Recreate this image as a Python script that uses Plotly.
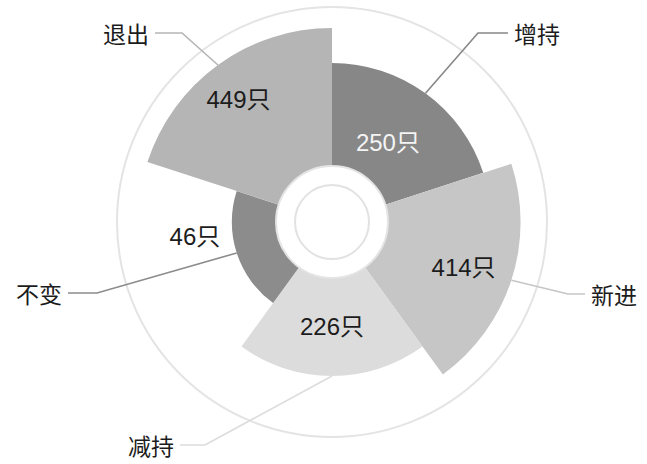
import numpy as np
import plotly.graph_objects as go

# ---------------- data ----------------
categories = ["增持", "新进", "减持", "不变", "退出"]
counts = [250, 414, 226, 46, 449]
unit = "只"

# ---------------- style ----------------
sector_colors = ["#878787", "#c6c6c6", "#dcdcdc", "#8c8c8c", "#b5b5b5"]
value_text_colors = ["#f4f4f4", "#1c1c1c", "#1c1c1c", "#1c1c1c", "#1c1c1c"]
value_label_r = [6.0, 12.9, 7.8, 12.6, 14.7]      # radial units
value_label_dtheta = [0, 2, 0, 11, -2]             # degrees
# leader line elbow / end points (pixels)
elbows = [(478, 33), (568, 294), (205, 445), (97, 293), (182, 33)]
ends = [(508, 33), (585, 294), (180, 445), (68, 293), (155, 33)]
label_side = ["left", "left", "right", "right", "right"]

W, H = 647, 464
CX, CY = 332, 222
R_OUT = 215
HOLE_PX = 56
R_MAX = 24.4
INNER_RING = 37

n = len(categories)
step = 360.0 / n
theta = [i * step + step / 2 for i in range(n)]
r_vals = np.sqrt(np.array(counts, dtype=float))


def px(x):
    return x / W


def py(y):
    return 1 - y / H


def polar_to_px(t_deg, r_units):
    rp = HOLE_PX + (R_OUT - HOLE_PX) * r_units / R_MAX
    t = np.radians(t_deg)
    return CX + rp * np.sin(t), CY - rp * np.cos(t)


fig = go.Figure()
fig.add_trace(go.Barpolar(
    r=r_vals, theta=theta, width=[step] * n,
    marker=dict(color=sector_colors, line=dict(width=0)),
    text=categories, hoverinfo="text", showlegend=False,
))
fig.add_trace(go.Scatterpolar(
    r=value_label_r,
    theta=[t + d for t, d in zip(theta, value_label_dtheta)],
    mode="text",
    text=[f"{v}{unit}" for v in counts],
    textfont=dict(family="Liberation Sans, Noto Sans CJK SC", size=24,
                  color=value_text_colors),
    cliponaxis=False, showlegend=False, hoverinfo="skip",
))

shapes = [dict(type="circle", xref="paper", yref="paper",
               x0=px(CX - INNER_RING), x1=px(CX + INNER_RING),
               y0=py(CY + INNER_RING), y1=py(CY - INNER_RING),
               line=dict(color="#e2e2e2", width=2))]
annotations = []
for i in range(n):
    sx, sy = polar_to_px(theta[i], r_vals[i])
    ex, ey = elbows[i]
    fx, fy = ends[i]
    shapes.append(dict(type="path", xref="paper", yref="paper",
                       path=f"M {px(sx)} {py(sy)} L {px(ex)} {py(ey)} L {px(fx)} {py(fy)}",
                       line=dict(color=sector_colors[i], width=1.6)))
    left = label_side[i] == "left"
    annotations.append(dict(x=px(fx + 4 if left else fx - 4), y=py(fy),
                            xref="paper", yref="paper",
                            text=categories[i], showarrow=False,
                            xanchor="left" if left else "right", yanchor="middle",
                            font=dict(family="Noto Sans CJK SC", size=23, color="#1c1c1c")))

fig.update_layout(
    width=W, height=H, autosize=False,
    margin=dict(l=0, r=0, t=0, b=0),
    paper_bgcolor="white", plot_bgcolor="white",
    showlegend=False,
    polar=dict(
        domain=dict(x=[px(CX - R_OUT), px(CX + R_OUT)],
                    y=[py(CY + R_OUT), py(CY - R_OUT)]),
        hole=HOLE_PX / R_OUT,
        bgcolor="white",
        radialaxis=dict(range=[0, R_MAX], visible=False),
        angularaxis=dict(rotation=90, direction="clockwise", showline=True,
                         linecolor="#e4e4e4", linewidth=2, showgrid=False,
                         showticklabels=False, ticks=""),
    ),
    shapes=shapes,
    annotations=annotations,
)

fig.write_html("out.html", config={"displayModeBar": False},
               post_script="document.body.style.margin='0';")
